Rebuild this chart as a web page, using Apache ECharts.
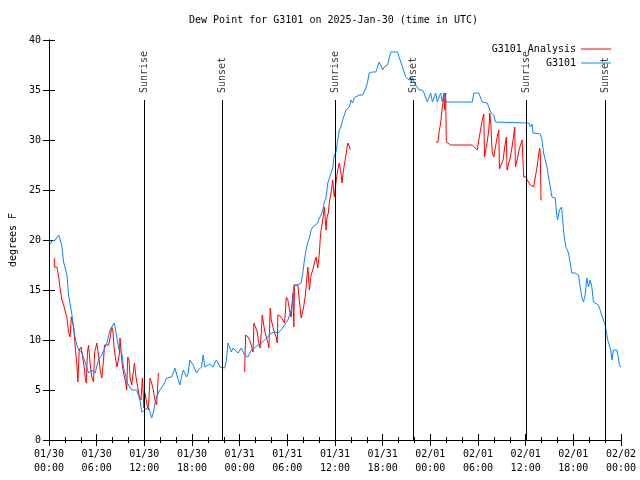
<!DOCTYPE html>
<html>
<head>
<meta charset="utf-8">
<script src="https://cdn.jsdelivr.net/npm/echarts@6/dist/echarts.min.js"></script>
<style>html,body{margin:0;padding:0;background:#fff;}#c{width:640px;height:480px;}</style>
</head>
<body>
<div id="c"></div>
<script>
// hours since 2025-01-30 00:00 UTC, dew point in degrees F
var stationData = [
[0.16,19.6],[0.38,19.9],[0.59,19.7],[0.79,20.0],[1.22,20.5],[1.42,20.0],[1.63,19.3],[1.84,17.8],[2.04,17.7],[2.26,16.5],
[2.47,14.5],[2.67,13.5],[2.89,12.5],[3.10,11.2],[3.30,10.2],[3.51,9.5],[3.73,9.0],[3.93,9.2],[4.14,8.8],[4.35,8.2],
[4.55,7.8],[4.77,7.2],[4.98,6.7],[5.18,6.8],[5.39,7.0],[5.81,6.7],[6.23,8.0],[6.65,8.5],[7.28,9.7],[7.69,11.0],
[7.90,11.3],[8.19,11.7],[8.32,11.3],[8.53,10.3],[8.82,9.0],[9.16,8.7],[9.37,7.3],[9.57,6.7],[9.87,5.7],[10.07,5.5],
[10.41,5.0],[10.62,4.8],[11.04,5.0],[11.25,4.8],[11.45,4.0],[11.67,2.8],[11.88,2.7],[12.08,3.0],[12.51,3.3],[12.71,2.8],
[12.92,2.2],[13.13,2.7],[13.33,3.7],[13.55,4.3],[13.76,4.7],[13.96,5.0],[14.17,5.2],[14.39,5.5],[14.59,5.8],[14.80,6.2],
[15.02,6.3],[15.43,6.3],[15.64,6.7],[15.84,7.2],[16.06,7.2],[16.27,6.0],[16.47,5.5],[16.68,6.3],[16.90,7.0],[17.10,6.7],
[17.31,6.3],[17.52,6.7],[17.72,8.0],[17.94,7.8],[18.15,7.5],[18.35,7.3],[18.57,6.7],[18.78,7.0],[18.98,7.2],[19.19,7.3],
[19.41,8.5],[19.61,7.3],[19.82,7.5],[20.23,7.6],[20.66,7.3],[20.86,7.7],[21.07,8.0],[21.29,7.7],[21.49,7.3],[21.70,7.2],
[22.12,7.2],[22.33,8.0],[22.54,9.7],[22.74,9.5],[22.96,8.8],[23.17,9.2],[23.37,9.0],[23.80,8.7],[24.21,9.2],[24.42,9.3],
[24.62,8.5],[25.05,8.3],[25.46,9.0],[25.88,9.2],[26.31,9.5],[26.72,9.7],[27.13,10.0],[27.56,10.3],[27.97,10.7],[28.39,10.8],
[28.81,10.7],[29.01,10.5],[29.23,11.0],[29.64,11.5],[30.07,12.0],[30.48,13.0],[30.70,14.0],[30.82,15.5],[31.32,15.5],[31.52,15.3],
[31.74,15.7],[31.95,16.7],[32.15,18.0],[32.36,19.0],[32.58,19.8],[32.78,20.2],[32.99,21.0],[33.20,21.3],[33.40,21.5],[33.83,21.7],
[34.03,22.2],[34.25,22.5],[34.46,23.0],[34.66,23.8],[34.87,24.2],[35.09,25.7],[35.29,26.2],[35.50,26.3],[35.71,27.2],[35.91,28.5],
[36.13,28.8],[36.34,30.0],[36.54,31.0],[36.75,31.3],[36.97,32.0],[37.17,32.5],[37.38,33.0],[37.60,33.2],[37.80,33.3],[38.01,34.0],
[38.22,33.7],[38.42,34.2],[38.64,34.3],[39.05,34.5],[39.48,34.5],[39.68,34.7],[39.89,35.2],[40.10,35.8],[40.30,36.7],[40.73,36.8],
[41.14,36.8],[41.36,37.3],[41.56,37.8],[41.77,37.5],[41.99,37.0],[42.19,37.3],[42.61,37.5],[42.81,38.2],[43.03,38.8],[43.87,38.8],
[44.07,38.3],[44.28,37.8],[44.50,37.3],[44.70,36.8],[44.91,36.3],[45.12,36.2],[45.32,36.0],[45.47,36.3],[45.62,35.7],[45.75,36.3],
[45.95,35.8],[46.16,35.5],[46.38,35.3],[46.58,35.0],[47.00,35.0],[47.20,34.7],[47.42,34.7],[47.63,33.8],[47.83,33.8],[48.04,34.7],
[48.26,33.8],[48.46,33.8],[48.67,34.7],[48.88,33.8],[49.08,33.8],[49.30,34.7],[49.51,33.8],[49.71,34.7],[49.93,34.8],[50.01,33.8],
[53.28,33.8],[53.48,34.7],[54.10,34.7],[54.32,34.5],[54.53,33.8],[55.16,33.7],[55.36,33.3],[55.57,32.8],[55.78,32.7],[55.98,32.5],
[56.20,31.8],[60.38,31.7],[60.59,31.3],[60.80,31.6],[60.93,30.7],[61.84,30.6],[62.05,30.0],[62.26,28.7],[62.47,28.0],[62.68,27.3],
[62.89,26.3],[63.10,25.3],[63.31,24.3],[63.72,24.2],[63.85,23.0],[64.01,22.0],[64.26,23.0],[64.52,23.3],[64.69,21.7],[64.85,20.3],
[65.07,19.3],[65.39,18.7],[65.61,17.7],[65.82,16.7],[66.23,16.7],[66.65,16.5],[66.86,15.3],[67.07,14.3],[67.28,13.8],[67.49,14.5],
[67.70,16.2],[67.90,15.3],[68.11,16.0],[68.33,15.3],[68.53,13.8],[68.74,13.7],[69.16,13.5],[69.37,13.0],[69.78,12.0],[70.00,11.5],
[70.33,10.0],[70.71,9.0],[70.87,8.0],[71.04,9.0],[71.25,9.2],[71.46,9.0],[71.66,8.3],[71.79,7.5],[72.0,7.3]
];
var analysisPart1 = [
[0.66,18.2],[0.67,17.3],[1.00,17.3],[1.22,16.3],[1.42,15.0],[1.63,14.0],[1.84,13.5],[2.04,13.3],[2.26,12.2],[2.47,10.8],
[2.67,10.3],[2.80,12.3],[3.10,11.3],[3.30,9.3],[3.51,7.5],[3.64,5.8],[3.80,9.0],[4.05,9.3],[4.23,8.3],[4.43,7.3],
[4.55,6.3],[4.68,5.7],[4.85,8.8],[4.98,9.5],[5.14,8.0],[5.27,7.0],[5.39,6.3],[5.61,5.8],[5.73,8.7],[6.02,9.7],
[6.31,8.0],[6.44,7.0],[6.65,6.2],[6.86,8.0],[6.99,9.5],[7.49,9.5],[7.69,10.2],[7.90,11.3],[8.03,11.0],[8.19,9.3],
[8.40,8.0],[8.57,7.3],[8.72,7.3],[8.87,8.7],[8.94,10.2],[9.07,8.8],[9.25,7.3],[9.45,6.5],[9.66,5.7],[9.78,5.0],
[9.91,8.3],[10.07,8.0],[10.20,6.3],[10.41,5.5],[10.60,5.6],[10.75,7.7],[10.95,6.3],[11.16,5.3],[11.33,4.5],[11.58,4.0],
[11.75,6.2],[11.95,3.2],[12.08,4.7],[12.29,3.7],[12.51,3.0],[12.71,6.2],[12.92,5.7],[13.13,5.0],[13.33,4.0],[13.55,3.5],
[13.68,5.3],[13.77,6.7]
];
var analysisPart2 = [
[24.62,6.8],[24.75,10.5],[25.05,10.3],[25.25,10.0],[25.46,9.5],[25.68,8.8],[25.80,11.7],[26.00,11.7],[26.22,10.8],[26.38,9.8],
[26.56,9.2],[26.72,10.7],[26.84,12.5],[26.97,12.4],[27.13,11.0],[27.35,10.3],[27.56,9.7],[27.68,9.2],[27.76,11.2],[27.85,13.2],
[27.97,12.0],[28.19,11.3],[28.39,10.7],[28.60,10.3],[28.73,9.7],[28.81,12.5],[29.10,12.4],[29.44,12.0],[29.64,11.7],[29.77,13.0],
[29.86,14.3],[30.07,14.0],[30.27,13.0],[30.48,12.3],[30.70,14.7],[30.82,11.3],[30.90,15.5],[31.32,15.5],[31.52,15.3],[31.74,12.2],
[31.86,12.3],[32.03,13.2],[32.24,14.3],[32.36,15.3],[32.58,17.3],[32.78,15.0],[32.99,16.5],[33.20,17.0],[33.40,17.7],[33.62,18.3],
[33.83,17.2],[34.03,18.7],[34.16,20.3],[34.25,21.0],[34.46,22.0],[34.66,23.3],[34.87,21.0],[35.00,22.3],[35.16,22.7],[35.29,23.8],
[35.50,24.7],[35.71,26.0],[35.91,24.3],[36.04,25.2],[36.16,26.0],[36.34,27.0],[36.54,27.7],[36.75,26.7],[36.88,25.7],[37.04,26.8],
[37.17,27.5],[37.38,28.5],[37.60,29.7],[37.80,29.4],[37.92,29.0]
];
var analysisPart3 = [
[48.67,29.8],[48.96,29.8],[49.08,30.7],[49.30,31.7],[49.42,32.7],[49.59,33.7],[49.71,34.7],[49.80,33.0],[49.93,34.7],[50.01,29.8],
[50.26,29.7],[50.55,29.5],[53.28,29.5],[53.48,29.3],[53.91,29.0],[54.10,30.0],[54.32,31.0],[54.53,32.0],[54.73,32.6],[54.82,28.3],
[55.04,28.3],[55.16,29.8],[55.36,31.0],[55.49,32.7],[55.62,31.5],[55.78,28.8],[55.98,28.3],[56.20,29.3],[56.41,30.3],[56.61,31.0],
[56.70,27.1],[56.95,27.1],[57.16,28.0],[57.36,29.3],[57.57,30.3],[57.66,27.0],[57.86,27.2],[58.07,28.3],[58.29,29.3],[58.49,30.5],
[58.62,31.3],[58.71,27.3],[58.92,28.0],[59.12,28.8],[59.34,29.5],[59.55,30.0],[59.67,30.2],[59.75,26.3],[60.09,26.3],[60.17,26.0],
[60.38,25.8],[60.59,25.5],[60.80,25.3],[61.01,25.3],[61.22,26.3],[61.43,27.3],[61.63,28.5],[61.76,29.2],[61.84,28.7],[61.93,24.0],
[62.05,24.0]
];
var sunHours = [12.04, 21.83, 36.0, 45.91, 60.09, 70.0];
var sunNames = ['Sunrise', 'Sunset', 'Sunrise', 'Sunset', 'Sunrise', 'Sunset'];
var sunLineTop = 34;
var xTickStart = 0, xTickEnd = 72, xTickStep = 6;
var yTickStart = 0, yTickEnd = 40, yTickStep = 5;
var dayLabels = ['01/30', '01/31', '02/01', '02/02'];

var FONT = 'DejaVu Sans Mono';
var RED = '#ff0000', BLUE = '#0a84ff';

function xLabel(h) {
  var d = Math.floor(h / 24 + 1e-6);
  var hh = Math.round(h - d * 24);
  return dayLabels[d] + '\n' + (hh < 10 ? '0' : '') + hh + ':00';
}

var sunMarks = sunHours.map(function (h) {
  return [{ coord: [h, 0] }, { coord: [h, sunLineTop] }];
});
var sunLabels = sunHours.map(function (h, i) {
  return { value: [h, sunLineTop + 0.6], name: sunNames[i] };
});

var chart = echarts.init(document.getElementById('c'), null, { renderer: 'canvas' });
var analysisCommon = { type: 'line', name: 'G3101 Analysis', showSymbol: false, symbol: 'none',
  lineStyle: { color: RED, width: 1 }, itemStyle: { color: RED }, animation: false, z: 3 };
var legendText = { fontFamily: FONT, fontSize: 10, color: '#000' };
var tickStyle = { color: '#000', width: 1 };
chart.setOption({
  animation: false,
  backgroundColor: '#ffffff',
  title: {
    text: 'Dew Point for G3101 on 2025-Jan-30 (time in UTC)',
    left: 184, top: 10,
    textStyle: { fontFamily: FONT, fontSize: 10, fontWeight: 'normal', color: '#000' }
  },
  legend: [
    { data: [{ name: 'G3101 Analysis', icon: 'rect' }], right: 24, top: 39, orient: 'vertical', align: 'right',
      itemWidth: 30, itemHeight: 1, itemGap: 0, textStyle: legendText, selectedMode: false },
    { data: [{ name: 'G3101', icon: 'rect' }], right: 24, top: 53, orient: 'vertical', align: 'right',
      itemWidth: 30, itemHeight: 1, itemGap: 0, textStyle: legendText, selectedMode: false }
  ],
  grid: { left: 44, right: 19, top: 40, bottom: 40, containLabel: false },
  xAxis: [
    { type: 'value', min: xTickStart, max: xTickEnd, interval: xTickStep,
      axisLine: { lineStyle: { color: '#000', width: 1 } },
      axisTick: { inside: true, length: 6, lineStyle: tickStyle },
      minorTick: { show: true, splitNumber: 3, length: 3, lineStyle: tickStyle },
      splitLine: { show: false },
      axisLabel: { formatter: xLabel, fontFamily: FONT, fontSize: 10, color: '#000', lineHeight: 14, margin: 7 } },
    { type: 'value', position: 'top', min: xTickStart, max: xTickEnd, interval: xTickStep,
      axisLine: { lineStyle: { color: '#000', width: 1 } },
      axisTick: { inside: true, length: 6, lineStyle: tickStyle },
      minorTick: { show: true, splitNumber: 3, length: 3, lineStyle: tickStyle },
      splitLine: { show: false }, axisLabel: { show: false } }
  ],
  yAxis: [
    { type: 'value', min: yTickStart, max: yTickEnd, interval: yTickStep,
      name: 'degrees F', nameLocation: 'middle', nameGap: 31, nameRotate: 90,
      nameTextStyle: { fontFamily: FONT, fontSize: 10, color: '#000' },
      axisLine: { show: true, lineStyle: { color: '#000', width: 1 } },
      axisTick: { show: true, inside: true, length: 6, lineStyle: tickStyle },
      splitLine: { show: false },
      axisLabel: { fontFamily: FONT, fontSize: 10, color: '#000', margin: 8 } },
    { type: 'value', position: 'right', min: yTickStart, max: yTickEnd, interval: yTickStep,
      axisLine: { show: true, lineStyle: { color: '#000', width: 1 } },
      axisTick: { show: true, inside: true, length: 6, lineStyle: tickStyle },
      splitLine: { show: false }, axisLabel: { show: false } }
  ],
  series: [
    Object.assign({ data: analysisPart1 }, analysisCommon),
    Object.assign({ data: analysisPart2 }, analysisCommon),
    Object.assign({ data: analysisPart3 }, analysisCommon),
    { type: 'line', name: 'G3101', data: stationData, showSymbol: false, symbol: 'none',
      lineStyle: { color: BLUE, width: 1 }, itemStyle: { color: BLUE }, z: 4 },
    { type: 'line', name: 'sun', data: [], silent: true,
      markLine: { silent: true, symbol: ['none', 'none'], animation: false,
        lineStyle: { color: '#000', width: 1, type: 'solid' }, label: { show: false },
        data: sunMarks } },
    { type: 'scatter', name: 'sunText', data: sunLabels, symbolSize: 0, silent: true, z: 5,
      xAxisIndex: 1, yAxisIndex: 1,
      label: { show: true, formatter: '{b}', rotate: 90, position: 'inside', align: 'left', verticalAlign: 'middle',
        offset: [1, 0], fontFamily: FONT, fontSize: 10, color: '#000' } }
  ]
});
</script>
</body>
</html>
